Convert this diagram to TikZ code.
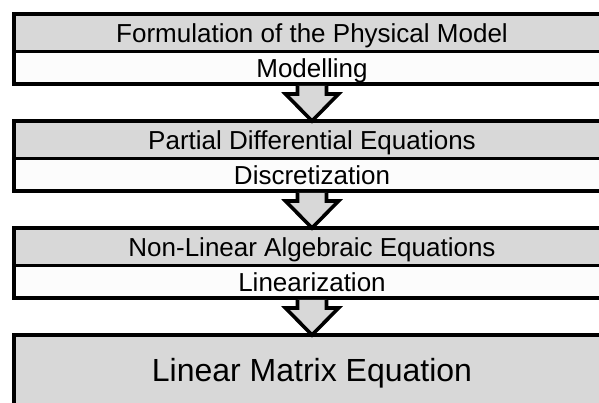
\documentclass[tikz,border=0pt]{standalone}
\usepackage{fontspec}
\setmainfont{Liberation Sans}
\usetikzlibrary{positioning,calc}
\definecolor{stagegray}{RGB}{216,216,216}
\definecolor{stepwhite}{RGB}{252,252,252}

\begin{document}
\begin{tikzpicture}[x=1pt,y=1pt,
  stage/.style={draw,line width=3.6pt,fill=stagegray,minimum width=660pt,minimum height=37.5pt,inner sep=0pt,outer sep=0pt,text height=18.6pt,text depth=0pt,font=\fontsize{26}{30}\selectfont,execute at begin node={\hspace*{-64pt}}},
  method/.style={stage,fill=stepwhite,minimum height=32.5pt},
  result/.style={stage,minimum height=70pt,text height=22.9pt,font=\fontsize{32}{38}\selectfont},
  flow/.style={draw,line width=3.6pt,fill=stagegray,line join=miter}
]
  \useasboundingbox (0,0) rectangle (599,-402);
  \clip (0,0) rectangle (599,-402);

  \node[stage,anchor=west] (model) at (14,-32.75) {Formulation of the Physical Model};
  \node[method,below=0pt of model] (modelling) {Modelling};
  \node[stage,below=37pt of modelling] (pde) {Partial Differential Equations};
  \node[method,below=0pt of pde] (discr) {Discretization};
  \node[stage,below=37pt of discr] (nonlin) {Non-Linear Algebraic Equations};
  \node[method,below=0pt of nonlin] (linz) {Linearization};
  \node[result,below=37pt of linz] (matrix) {Linear Matrix Equation};

  % block arrows between the stages
  \draw[flow] ($(modelling.south west)+(283.5,-1.8)$) -- ++(0,-8.2) -- ++(-12,0) -- ($(pde.north west)+(298,0)$)
    -- ($(modelling.south west)+(324.5,-10)$) -- ++(-12,0) -- ++(0,8.2);
  \draw[flow] ($(discr.south west)+(283.5,-1.8)$) -- ++(0,-8.2) -- ++(-12,0) -- ($(nonlin.north west)+(298,0)$)
    -- ($(discr.south west)+(324.5,-10)$) -- ++(-12,0) -- ++(0,8.2);
  \draw[flow] ($(linz.south west)+(283.5,-1.8)$) -- ++(0,-8.2) -- ++(-12,0) -- ($(matrix.north west)+(298,0)$)
    -- ($(linz.south west)+(324.5,-10)$) -- ++(-12,0) -- ++(0,8.2);
\end{tikzpicture}
\end{document}
